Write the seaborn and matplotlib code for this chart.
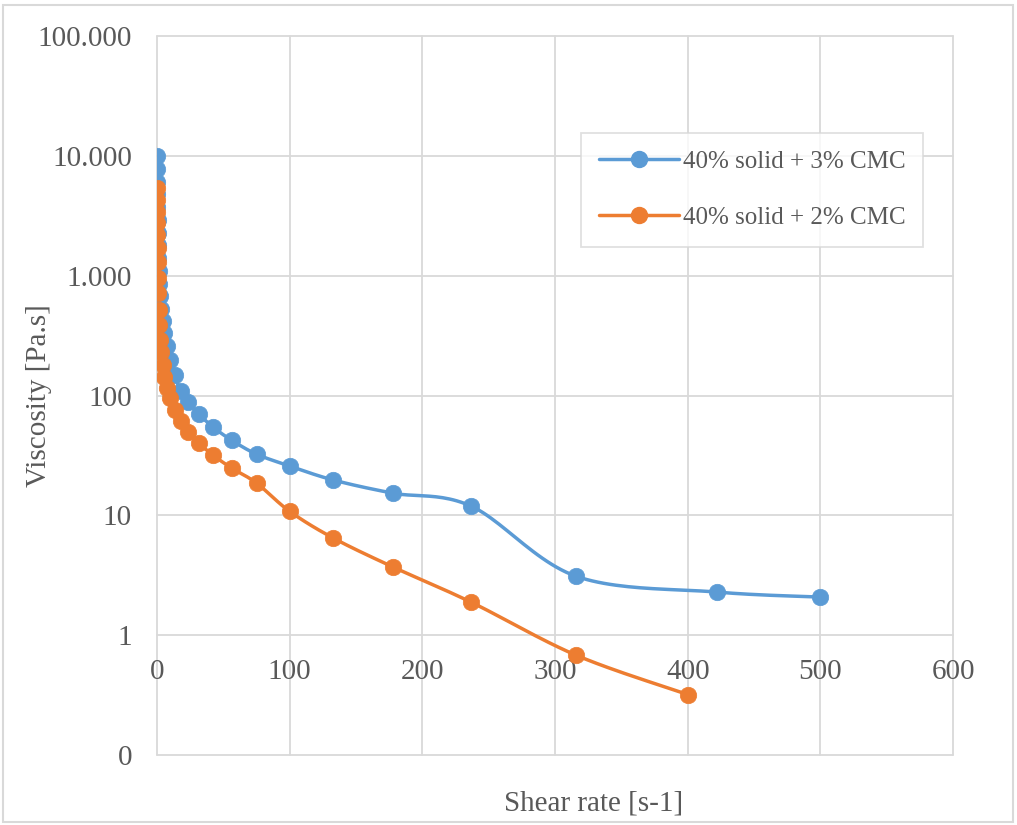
import numpy as np
import pandas as pd
import matplotlib
matplotlib.use("Agg")
import matplotlib.pyplot as plt
import seaborn as sns
from matplotlib.lines import Line2D
from matplotlib.patches import Rectangle
from matplotlib.ticker import FixedLocator, FixedFormatter

# ---------------- data ----------------
series_names = ["40% solid + 3% CMC", "40% solid + 2% CMC"]

shear_blue = [0.1, 0.133, 0.178, 0.237, 0.316, 0.422, 0.562, 0.75, 1.0, 1.33, 1.78, 2.37,
              3.16, 4.22, 5.62, 7.5, 10, 13.3, 17.8, 23.7, 31.6, 42.2, 56.2, 75, 100,
              133, 178, 237, 316, 422, 500]
visc_blue = [10000, 7760, 6040, 4800, 3740, 2910, 2270, 1800, 1400, 1090, 851, 676,
             526, 418, 332, 258, 197, 148, 109, 88, 70, 54.5, 42.4, 32.4, 25.8,
             19.7, 15.3, 11.9, 3.1, 2.29, 2.08]

shear_orange = [0.1, 0.133, 0.178, 0.237, 0.316, 0.422, 0.562, 0.75, 1.0, 1.33, 1.78, 2.37,
                3.16, 4.22, 5.62, 7.5, 10, 13.3, 17.8, 23.7, 31.6, 42.2, 56.2, 75, 100,
                133, 178, 237, 316, 400]
visc_orange = [5380, 4280, 3400, 2750, 2180, 1700, 1300, 955, 716, 517, 387, 290,
               230, 179, 142, 115, 95, 75.5, 61, 49.5, 40, 31.8, 24.8, 18.6, 10.8,
               6.45, 3.7, 1.88, 0.68, 0.32]

x_ticks = [0, 100, 200, 300, 400, 500, 600]
y_ticks = [0.1, 1, 10, 100, 1000, 10000, 100000]
y_tick_labels = ["0", "1", "10", "100", "1.000", "10.000", "100.000"]

colors = ["#5B9BD5", "#ED7D31"]
TEXT = "#595959"
GRID = "#D9D9D9"

# ---------------- style ----------------
sns.set_theme(style="white")
plt.rcParams["font.family"] = ["Liberation Serif", "DejaVu Serif"]

fig = plt.figure(figsize=(10.17, 8.25), dpi=100)
ax = fig.add_axes([0.1544, 0.0848, 0.7827, 0.8716])


def smooth_curve(xs, ys, px_per_x=796 / 600, px_per_dec=119.8, n=24):
    """Excel-like smoothed line (Bezier/Catmull-Rom in display-like space)."""
    u = np.asarray(xs, float) * px_per_x
    v = np.log10(np.asarray(ys, float)) * px_per_dec
    P = np.column_stack([u, v])
    out = []
    for i in range(len(P) - 1):
        p0 = P[i - 1] if i > 0 else P[i]
        p1, p2 = P[i], P[i + 1]
        p3 = P[i + 2] if i + 2 < len(P) else P[i + 1]
        c1 = p1 + (p2 - p0) / 6.0
        c2 = p2 - (p3 - p1) / 6.0
        t = np.linspace(0, 1, n, endpoint=(i == len(P) - 2))[:, None]
        b = ((1 - t) ** 3) * p1 + 3 * ((1 - t) ** 2) * t * c1 + 3 * (1 - t) * t ** 2 * c2 + t ** 3 * p2
        out.append(b)
    B = np.vstack(out)
    return B[:, 0] / px_per_x, 10 ** (B[:, 1] / px_per_dec)


for xs, ys, c, name in [(shear_blue, visc_blue, colors[0], series_names[0]),
                        (shear_orange, visc_orange, colors[1], series_names[1])]:
    sx, sy = smooth_curve(xs, ys)
    curve = pd.DataFrame({"x": sx, "y": sy})
    sns.lineplot(data=curve, x="x", y="y", sort=False, estimator=None, ax=ax,
                 color=c, linewidth=2.5, zorder=3)
    pts = pd.DataFrame({"x": xs, "y": ys})
    sns.scatterplot(data=pts, x="x", y="y", ax=ax, color=c, s=140,
                    edgecolor=c, linewidth=0.5, zorder=4)

ax.set_yscale("log")
ax.set_xlim(0, 600)
ax.set_ylim(0.1, 100000)
ax.xaxis.set_major_locator(FixedLocator(x_ticks))
ax.set_xticklabels([str(t) for t in x_ticks])
ax.yaxis.set_major_locator(FixedLocator(y_ticks))
ax.yaxis.set_major_formatter(FixedFormatter(y_tick_labels))
ax.yaxis.set_minor_locator(FixedLocator([]))

for s in ax.spines.values():
    s.set_visible(False)
ax.spines["bottom"].set_position(("data", 1))

ax.grid(True, which="major", color=GRID, linewidth=1.3)
for gl in ax.get_ygridlines() + ax.get_xgridlines():
    gl.set_clip_on(False)
ax.set_axisbelow(True)

ax.tick_params(axis="both", length=0, labelsize=21, labelcolor=TEXT)
ax.tick_params(axis="y", pad=18)
ax.tick_params(axis="x", pad=17)

ax.set_xlabel("Shear rate [s-1]", fontsize=21, color=TEXT)
ax.set_ylabel("Viscosity [Pa.s]", fontsize=21, color=TEXT)
ax.xaxis.set_label_coords(0.548, -0.05)
ax.yaxis.set_label_coords(-0.132, 0.5)

handles = [Line2D([0], [0], color=c, lw=2.5, marker="o", markersize=11.5) for c in colors]
leg = ax.legend(handles, series_names, loc="upper right", bbox_to_anchor=(0.962, 0.865),
                fontsize=18, frameon=True, fancybox=False, edgecolor=GRID,
                handlelength=3.2, handletextpad=0.15, labelspacing=1.34,
                borderpad=0.7, borderaxespad=0)
for t in leg.get_texts():
    t.set_color(TEXT)
leg.get_frame().set_linewidth(1.3)

fig.patches.append(Rectangle((0.003, 0.004), 0.993, 0.99, transform=fig.transFigure,
                             fill=False, edgecolor=GRID, linewidth=1.5))

fig.savefig("out.png", dpi=100)
